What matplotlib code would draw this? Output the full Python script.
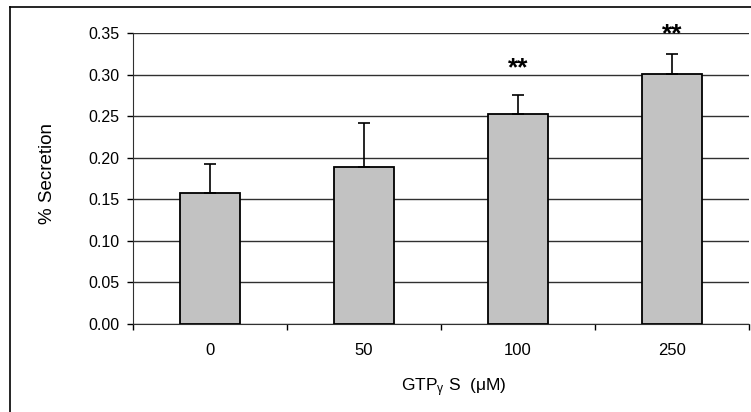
import matplotlib
matplotlib.use("Agg")
import matplotlib.pyplot as plt
from matplotlib.lines import Line2D
import numpy as np

plt.rcParams['font.family'] = ['Liberation Sans', 'DejaVu Sans']
plt.rcParams['mathtext.fontset'] = 'custom'
plt.rcParams['mathtext.rm'] = 'Liberation Sans'
plt.rcParams['mathtext.it'] = 'Liberation Sans'

categories = ["0", "50", "100", "250"]
secretion = [0.158, 0.189, 0.253, 0.301]
sem = [0.035, 0.053, 0.023, 0.024]
stars = ["", "", "**", "**"]
star_y = [None, None, 0.307, 0.348]

fig = plt.figure(figsize=(7.51, 4.12), dpi=100)
ax = fig.add_axes([133/751, 1-324/412, (749-133)/751, (324-33)/412])

x = np.arange(len(categories))
ax.bar(x, secretion, width=0.39, color='#c2c2c2', edgecolor='black', linewidth=1.3, zorder=3)
ax.errorbar(x, secretion, yerr=[np.zeros(len(sem)), sem], fmt='none', ecolor='black',
            elinewidth=1.2, capsize=4.5, capthick=1.2, zorder=4)

for xi, s, sy in zip(x, stars, star_y):
    if s:
        ax.text(xi, sy, s, ha='center', va='center', fontsize=19,
                fontweight='bold', clip_on=False, zorder=5)

ax.set_ylim(0, 0.35)
ax.set_xlim(-0.5, 3.5)
yt = np.arange(0, 0.351, 0.05)
ax.set_yticks(yt)
ax.set_yticklabels([f"{v:.2f}" for v in yt], fontsize=11.5)
ax.yaxis.grid(True, color='#303030', linewidth=1.0, zorder=0)
ax.set_axisbelow(True)

ax.set_xticks(x)
ax.set_xticklabels(categories, fontsize=12)
ax.set_xticks(np.arange(-0.5, 3.6, 1.0), minor=True)
ax.tick_params(axis='x', which='major', length=0, pad=14)
ax.tick_params(axis='x', which='minor', length=4, width=1, direction='out')
ax.tick_params(axis='y', which='major', length=4, width=1, direction='out', pad=5.5)

for side in ['top', 'right']:
    ax.spines[side].set_visible(False)
ax.spines['left'].set_color('#303030')
ax.spines['bottom'].set_color('#303030')

ax.set_ylabel("% Secretion", fontsize=13.5)
ax.yaxis.set_label_coords((56-133)/616, (324-173)/291)
ax.set_xlabel("GTP$_{\\mathregular{γ}}$ S  (μM)", fontsize=12.5)
ax.xaxis.set_label_coords((454-133)/616, (324-376)/291)

# outer chart frame
fig.add_artist(Line2D([10/751, 10/751], [0, 1-7/412], transform=fig.transFigure, color='black', linewidth=1.2))
fig.add_artist(Line2D([10/751, 1], [1-7/412, 1-7/412], transform=fig.transFigure, color='black', linewidth=1.2))

fig.savefig("out.png", dpi=100)
